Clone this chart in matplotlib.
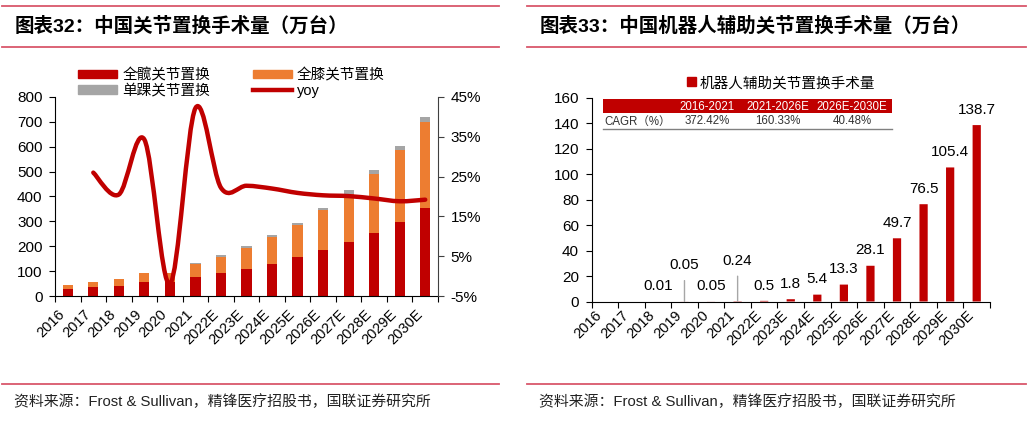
import numpy as np
import matplotlib
matplotlib.use('Agg')
import matplotlib.pyplot as plt
from matplotlib.path import Path
from matplotlib.patches import PathPatch, Rectangle, Patch
from matplotlib.lines import Line2D

plt.rcParams['font.family'] = ['Liberation Sans', 'Noto Sans CJK SC']

# ---- data ----
years = ['2016', '2017', '2018', '2019', '2020', '2021', '2022E', '2023E', '2024E',
         '2025E', '2026E', '2027E', '2028E', '2029E', '2030E']
hip = [27, 37, 41, 55, 57, 78, 91, 110, 130, 156, 184, 218, 254, 299, 354]
knee = [17, 20, 27, 36, 34, 50, 67, 84, 108, 130, 160, 194, 238, 289, 345]
ankle = [1, 1, 1, 1, 1, 4, 5, 5, 7, 7, 9, 13, 16, 14, 19]
yoy = [None, 26.0, 20.5, 34.3, -2.0, 42.2, 22.2, 22.7, 22.0, 20.9, 20.3, 20.1, 19.5, 18.8, 19.2]

robot = [0, 0, 0.01, 0.05, 0.05, 0.24, 0.5, 1.8, 5.4, 13.3, 28.1, 49.7, 76.5, 105.4, 138.7]
robot_labels = ['', '', '0.01', '0.05', '0.05', '0.24', '0.5', '1.8', '5.4', '13.3',
                '28.1', '49.7', '76.5', '105.4', '138.7']

cagr_periods = ['2016-2021', '2021-2026E', '2026E-2030E']
cagr_values = ['372.42%', '160.33%', '40.48%']

RED = '#C00000'
ORANGE = '#ED7D31'
GREY = '#A5A5A5'
PINK = '#D9576B'

W, H = 1028, 423


def fx(px):
    return px / W


def fy(py):
    return 1 - py / H


def smooth_path(xs, ys):
    # excel-like smoothed line (catmull-rom as cubic bezier)
    verts = [(xs[0], ys[0])]
    codes = [Path.MOVETO]
    n = len(xs)
    for i in range(n - 1):
        xp, yp = (xs[i - 1], ys[i - 1]) if i > 0 else (xs[i], ys[i])
        xn, yn = (xs[i + 2], ys[i + 2]) if i + 2 < n else (xs[i + 1], ys[i + 1])
        c1 = (xs[i] + (xs[i + 1] - xp) / 6, ys[i] + (ys[i + 1] - yp) / 6)
        c2 = (xs[i + 1] - (xn - xs[i]) / 6, ys[i + 1] - (yn - ys[i]) / 6)
        verts += [c1, c2, (xs[i + 1], ys[i + 1])]
        codes += [Path.CURVE4] * 3
    return Path(verts, codes)


fig = plt.figure(figsize=(W / 100, H / 100), dpi=100)

# ---- headers / footers ----
for x0, x1, tx, title in [(2, 499, 15, '图表32：中国关节置换手术量（万台）'),
                          (527, 1026, 540, '图表33：中国机器人辅助关节置换手术量（万台）')]:
    for yy in (6, 47, 384):
        fig.add_artist(Line2D([fx(x0), fx(x1)], [fy(yy), fy(yy)], color=PINK, lw=1.3,
                              transform=fig.transFigure))
    fig.text(fx(tx), fy(26.5), title, fontsize=14, fontweight='bold', va='center', ha='left',
             color='black')
    fig.text(fx(tx - 1), fy(402), '资料来源：Frost & Sullivan，精锋医疗招股书，国联证券研究所',
             fontsize=10.7, va='center', ha='left', color='#222222')

# ---- left chart ----
x = np.arange(len(years))
ax = fig.add_axes([fx(55), fy(296), (438 - 55) / W, (296 - 97) / H])
hip_a = np.array(hip)
knee_a = np.array(knee)
ax.bar(x, hip, width=0.4, color=RED, lw=0, zorder=2)
ax.bar(x, knee, bottom=hip_a, width=0.4, color=ORANGE, lw=0, zorder=2)
ax.bar(x, ankle, bottom=hip_a + knee_a, width=0.4, color=GREY, lw=0, zorder=2)
ax.set_xlim(-0.5, 14.5)
ax.set_ylim(0, 800)
ax.set_yticks(np.arange(0, 801, 100))
ax.set_xticks(np.arange(-0.5, 15, 1))
ax.set_xticklabels([])
ax.set_xticks(x, labels=years, minor=True)
ax.tick_params(axis='x', which='major', length=4, direction='out', width=0.8)
ax.tick_params(axis='x', which='minor', length=0, pad=8, labelsize=10.5, labelrotation=45)
ax.tick_params(axis='y', length=4, width=0.8, pad=5, labelsize=11)
for lab in ax.get_xticklabels(minor=True):
    lab.set_ha('right')
for s in ('top', 'right'):
    ax.spines[s].set_visible(False)

ax2 = ax.twinx()
ax2.set_ylim(-5, 45)
ax2.set_yticks(np.arange(-5, 46, 10))
ax2.set_yticklabels([f'{v}%' for v in range(-5, 46, 10)])
ax2.tick_params(axis='y', length=4, width=0.8, pad=5, labelsize=11, color='#404040')
for s in ('top', 'left', 'bottom'):
    ax2.spines[s].set_visible(False)
ax2.spines['right'].set_color('#404040')

yx = [i for i, v in enumerate(yoy) if v is not None]
yv = [v for v in yoy if v is not None]
ax2.add_patch(PathPatch(smooth_path(yx, yv), fill=False, edgecolor=RED, lw=3.2,
                        capstyle='round', joinstyle='round', zorder=3))

handles = [Patch(color=RED), Patch(color=GREY), Patch(color=ORANGE),
           Line2D([], [], color=RED, lw=3.2)]
labels = ['全髋关节置换', '单踝关节置换', '全膝关节置换', 'yoy']
fig.legend(handles, labels, loc='upper left', bbox_to_anchor=(fx(78), fy(68)), ncol=2,
           frameon=False, fontsize=10.5, handlelength=2.7, handleheight=0.55,
           handletextpad=0.35, columnspacing=2.9, labelspacing=0.12, borderpad=0,
           borderaxespad=0)

# ---- right chart ----
axr = fig.add_axes([fx(591.5), fy(301.5), (990 - 591.5) / W, (301.5 - 98) / H])
bars = axr.bar(x, robot, width=0.31, color=RED, lw=0, zorder=2)
for b in bars:
    b.set_snap(False)
axr.set_xlim(-0.5, 14.5)
axr.set_ylim(0, 160)
axr.set_yticks(np.arange(0, 161, 20))
axr.set_xticks(np.arange(-0.5, 15, 1))
axr.set_xticklabels([])
axr.set_xticks(x, labels=years, minor=True)
axr.tick_params(axis='x', which='major', length=4, direction='out', width=0.8)
axr.tick_params(axis='x', which='minor', length=0, pad=5, labelsize=10.5, labelrotation=45)
axr.tick_params(axis='y', length=4, width=0.8, pad=5, labelsize=11)
for lab in axr.get_xticklabels(minor=True):
    lab.set_ha('right')
for s in ('top', 'right'):
    axr.spines[s].set_visible(False)

lifted = {3: 21, 5: 24}
for i, (v, lab) in enumerate(zip(robot, robot_labels)):
    if not lab:
        continue
    if i in lifted:
        axr.annotate(lab, xy=(i, v), xytext=(0, lifted[i]), textcoords='offset points',
                     ha='center', va='bottom', fontsize=11,
                     arrowprops=dict(arrowstyle='-', color='#A6A6A6', lw=1,
                                     shrinkA=4, shrinkB=0))
    else:
        axr.annotate(lab, xy=(i, v), xytext=(0, 6), textcoords='offset points',
                     ha='center', va='bottom', fontsize=11)

fig.legend([Patch(color=RED)], ['机器人辅助关节置换手术量'], loc='center',
           bbox_to_anchor=(fx(781), fy(83)), frameon=False, fontsize=10.5,
           handlelength=0.6, handleheight=0.6, handletextpad=0.25, borderpad=0)

# CAGR table
fig.add_artist(Rectangle((fx(603), fy(113.5)), (892 - 603) / W, (113.5 - 99.5) / H,
                         transform=fig.transFigure, color=RED, lw=0))
fig.add_artist(Line2D([fx(603), fx(892)], [fy(128.5), fy(128.5)], color='#808080', lw=1,
                      transform=fig.transFigure))
col_x = [707, 778, 852]
for cx, per, val in zip(col_x, cagr_periods, cagr_values):
    fig.text(fx(cx), fy(106.5), per, color='white', fontsize=8.3, ha='center', va='center')
    fig.text(fx(cx), fy(121.5), val, color='#333333', fontsize=8.3, ha='center', va='center')
fig.text(fx(604), fy(121.5), 'CAGR（%）', color='#333333', fontsize=8.3, ha='left', va='center')

fig.savefig('out.png', dpi=100)
